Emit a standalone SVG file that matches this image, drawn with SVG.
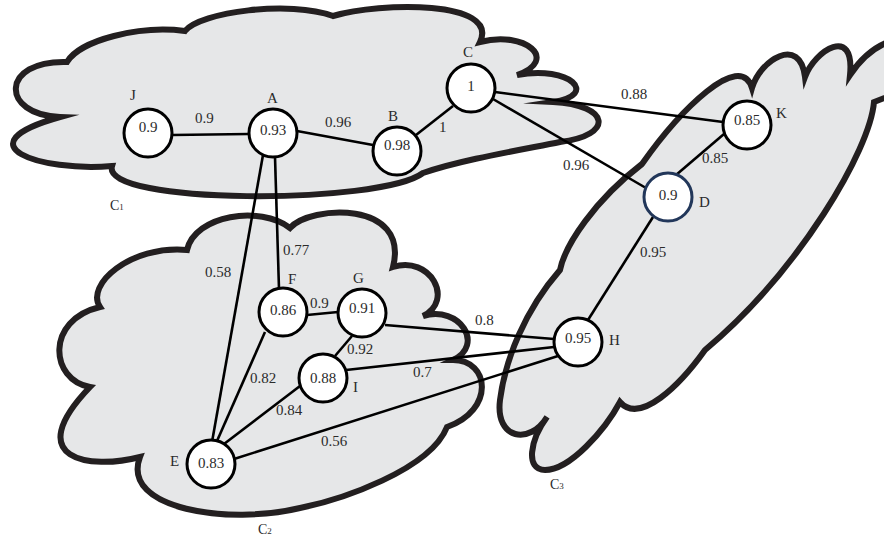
<svg xmlns="http://www.w3.org/2000/svg" width="884" height="539" viewBox="0 0 884 539">
  <style>
    .cloud { fill: #e6e7e8; stroke: #231f20; stroke-width: 6; stroke-linejoin: miter; stroke-miterlimit: 10; }
    .edge { stroke: #000; stroke-width: 2.6; fill: none; stroke-linecap: butt; }
    .node circle { fill: #fff; stroke: #000; stroke-width: 3; }
    .val { font-family: "Liberation Serif", "Times New Roman", serif; font-size: 15px; fill: #2b2b2b; text-anchor: middle; }
    .lbl { font-family: "Liberation Serif", "Times New Roman", serif; font-size: 15px; fill: #2b2b2b; }
    .w { font-family: "Liberation Serif", "Times New Roman", serif; font-size: 15px; fill: #2b2b2b; }
    .cl { font-family: "Liberation Serif", "Times New Roman", serif; font-size: 14px; fill: #2b2b2b; }
    .sub { font-size: 9px; }
  </style>

  <!-- community clouds -->
  <g id="cluster-C1">
    <path class="cloud" d="M67,62 C80,40 140,25 185,31 C200,12 290,0 333,16 C380,2 500,0 480,42 C525,30 560,60 517,75 C570,65 600,95 553,102 C610,105 615,135 560,142 C520,150 460,160 423,173 C380,205 100,205 112,166 C40,172 -40,145 60,117 C0,115 0,60 67,62 Z"/>
    <text class="cl" x="110" y="210">C<tspan class="sub">1</tspan></text>
  </g>
  <g id="cluster-C2">
    <path class="cloud" d="M187,250 C195,215 260,205 290,228 C310,205 410,200 393,267 C430,255 455,300 423,316 C460,305 485,345 453,360 C490,360 495,410 447,427 C430,470 340,500 300,508 C230,525 120,510 140,457 C90,470 20,460 90,387 C50,380 45,320 100,307 C85,285 130,245 187,250 Z"/>
    <text class="cl" x="258" y="534">C<tspan class="sub">2</tspan></text>
  </g>
  <g id="cluster-C3">
    <path class="cloud" d="M560,270 C565,245 595,200 642,164 C680,110 740,50 752,88 C760,60 800,35 805,77 C815,50 855,25 850,75 C860,60 875,45 895,40 L905,90 L874,102 C870,150 800,270 705,350 C680,385 640,425 620,402 C605,430 570,470 545,470 C525,470 530,440 547,417 C530,445 495,440 500,400 C505,360 525,310 560,270 Z"/>
    <text class="cl" x="550" y="489">C<tspan class="sub">3</tspan></text>
  </g>

  <!-- weighted links -->
  <g id="edges">
    <line class="edge" x1="172" y1="135" x2="249" y2="134"/>
    <line class="edge" x1="297" y1="131" x2="373" y2="145"/>
    <line class="edge" x1="416" y1="135" x2="453" y2="106"/>
    <line class="edge" x1="495" y1="92" x2="723" y2="122"/>
    <line class="edge" x1="493" y1="99" x2="646" y2="188"/>
    <line class="edge" x1="724" y1="134" x2="676" y2="175"/>
    <line class="edge" x1="653" y1="217" x2="588" y2="320"/>
    <line class="edge" x1="263" y1="155" x2="212" y2="442"/>
    <line class="edge" x1="275" y1="157" x2="279" y2="289"/>
    <line class="edge" x1="307" y1="315" x2="338" y2="312"/>
    <line class="edge" x1="352" y1="336" x2="335" y2="356"/>
    <line class="edge" x1="385" y1="325" x2="554" y2="339"/>
    <line class="edge" x1="346" y1="370" x2="554" y2="347"/>
    <line class="edge" x1="234" y1="459" x2="558" y2="356"/>
    <line class="edge" x1="217" y1="441" x2="265" y2="332"/>
    <line class="edge" x1="224" y1="444" x2="300" y2="386"/>

    <text class="w" x="195" y="123">0.9</text>
    <text class="w" x="325" y="127">0.96</text>
    <text class="w" x="439" y="132">1</text>
    <text class="w" x="563" y="170">0.96</text>
    <text class="w" x="621" y="99">0.88</text>
    <text class="w" x="702" y="163">0.85</text>
    <text class="w" x="640" y="257">0.95</text>
    <text class="w" x="283" y="255">0.77</text>
    <text class="w" x="205" y="277">0.58</text>
    <text class="w" x="310" y="308">0.9</text>
    <text class="w" x="347" y="354">0.92</text>
    <text class="w" x="475" y="325">0.8</text>
    <text class="w" x="413" y="377">0.7</text>
    <text class="w" x="250" y="383">0.82</text>
    <text class="w" x="276" y="415">0.84</text>
    <text class="w" x="321" y="446">0.56</text>
  </g>

  <!-- nodes -->
  <g id="node-J" class="node"><circle cx="148" cy="133" r="24"/><text class="val" x="148" y="132">0.9</text><text class="lbl" x="130" y="100">J</text></g>
  <g id="node-A" class="node"><circle cx="273" cy="133" r="24"/><text class="val" x="273" y="135">0.93</text><text class="lbl" x="267" y="103">A</text></g>
  <g id="node-B" class="node"><circle cx="397" cy="151" r="24"/><text class="val" x="397" y="150">0.98</text><text class="lbl" x="388" y="121">B</text></g>
  <g id="node-C" class="node"><circle cx="471" cy="88" r="24"/><text class="val" x="471" y="91">1</text><text class="lbl" x="463" y="57">C</text></g>
  <g id="node-K" class="node"><circle cx="747" cy="125" r="24"/><text class="val" x="747" y="125">0.85</text><text class="lbl" x="776" y="118">K</text></g>
  <g id="node-D" class="node"><circle cx="668" cy="197" r="24" style="stroke:#22375a"/><text class="val" x="668" y="200">0.9</text><text class="lbl" x="699" y="207">D</text></g>
  <g id="node-F" class="node"><circle cx="283" cy="312" r="24"/><text class="val" x="283" y="315">0.86</text><text class="lbl" x="288" y="284">F</text></g>
  <g id="node-G" class="node"><circle cx="362" cy="313" r="24"/><text class="val" x="362" y="313">0.91</text><text class="lbl" x="353" y="283">G</text></g>
  <g id="node-I" class="node"><circle cx="323" cy="378" r="24"/><text class="val" x="323" y="383">0.88</text><text class="lbl" x="353" y="392">I</text></g>
  <g id="node-E" class="node"><circle cx="211" cy="464" r="24"/><text class="val" x="211" y="468">0.83</text><text class="lbl" x="170" y="466">E</text></g>
  <g id="node-H" class="node"><circle cx="578" cy="342" r="24"/><text class="val" x="578" y="343">0.95</text><text class="lbl" x="609" y="345">H</text></g>
</svg>
